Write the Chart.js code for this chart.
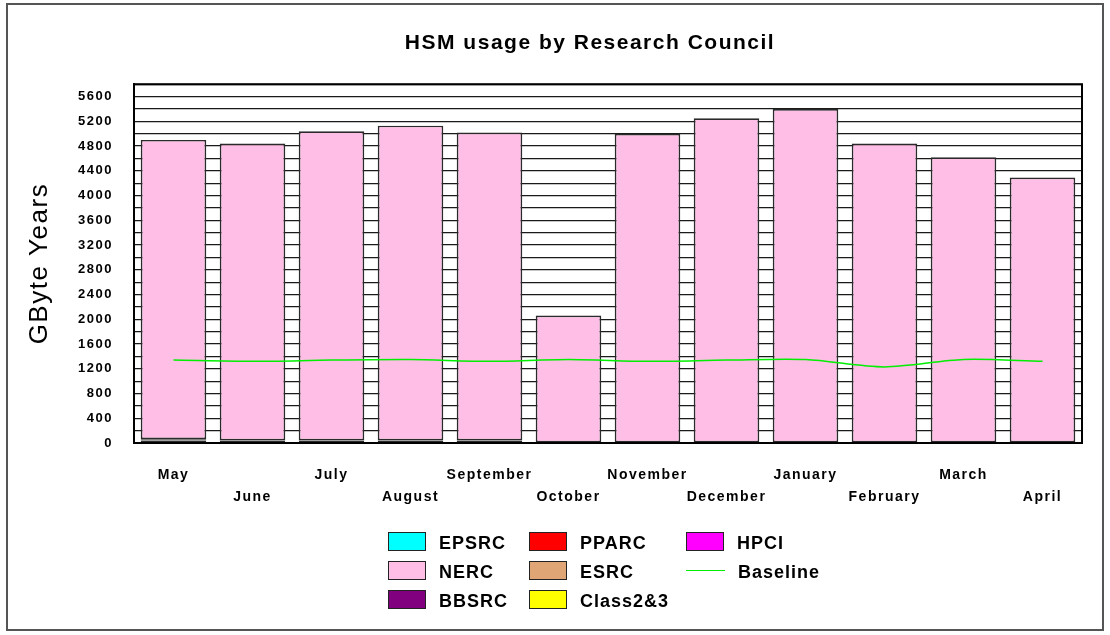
<!DOCTYPE html>
<html>
<head>
<meta charset="utf-8">
<title>HSM usage by Research Council</title>
<script src="https://cdn.jsdelivr.net/npm/chart.js@4.4.1/dist/chart.umd.min.js"></script>
<style>
  html, body { margin: 0; padding: 0; background: #fff; }
  #wrap { position: relative; width: 1110px; height: 635px; }
  #frame {
    position: absolute; left: 6px; top: 3px; width: 1094px; height: 624px;
    border: 2px solid #555;
  }
  canvas { position: absolute; left: 0; top: 0; }
  #legend {
    position: absolute; left: 388px; top: 532px;
    display: grid; grid-template-columns: 141px 157px 160px; grid-auto-rows: 29px;
    font: bold 18px "Liberation Sans", Arial, sans-serif; letter-spacing: 1px; color: #000;
  }
  #legend .item { display: flex; align-items: flex-start; }
  #legend .box { width: 36px; height: 17px; border: 1.5px solid #222; margin-right: 13px; flex: none; }
  #legend .line { width: 39px; height: 0; border-top: 1.5px solid #00ee00; margin: 9px 13px 0 0; flex: none; }
  #legend span { line-height: 22px; }
</style>
</head>
<body>
<div id="wrap">
  <div id="frame"></div>
  <canvas id="hsmChart" width="1110" height="635"></canvas>
  <div id="legend"></div>
</div>
<script>
// months of the accounting year
const months = ['May', 'June', 'July', 'August', 'September', 'October',
                'November', 'December', 'January', 'February', 'March', 'April'];

// GByte years held per research council
const epsrc    = [40, 0, 0, 0, 0, 0, 0, 0, 0, 0, 0, 0];
const bbsrc    = [20, 40, 40, 40, 40, 10, 10, 10, 10, 10, 10, 10];
const pparc    = [0, 0, 0, 0, 0, 0, 0, 0, 0, 0, 0, 0];
const esrc     = [0, 0, 0, 0, 0, 0, 0, 0, 0, 0, 0, 0];
const hpci     = [0, 0, 0, 0, 0, 0, 0, 0, 0, 0, 0, 0];
const class23  = [0, 0, 0, 0, 0, 0, 0, 0, 0, 0, 0, 0];
const nerc     = [4840, 4800, 5000, 5090, 4980, 2050, 4990, 5240, 5390, 4830, 4610, 4280];
const baseline = [1340, 1320, 1340, 1350, 1320, 1350, 1320, 1340, 1350, 1230, 1350, 1320];

// y axis: grid every 200, label every 400
const yMax = 5800;
const yStep = 200;
const yLabelEvery = 400;

const colors = {
    EPSRC: '#00ffff', PPARC: '#ff0000', HPCI: '#ff00ff',
    NERC: '#ffbee6', ESRC: '#dfa574', BBSRC: '#800080',
    'Class2&3': '#ffff00', Baseline: '#00ee00'
};

// legend reads row by row, three columns
const legendOrder = ['EPSRC', 'PPARC', 'HPCI', 'NERC', 'ESRC', 'Baseline', 'BBSRC', 'Class2&3'];

const FONT = '"Liberation Sans", Arial, sans-serif';

function barSet(label, data) {
    return {
        type: 'bar',
        label: label,
        data: data,
        stack: 'hsm',
        backgroundColor: colors[label],
        borderColor: '#2a2a2a',
        borderWidth: 1.7,
        borderSkipped: false,
        categoryPercentage: 0.83,
        barPercentage: 1,
        order: 1
    };
}

// outline the plot area, space the text out a little,
// and centre the title a bit left of the plot
const plotFrame = {
    id: 'plotFrame',
    beforeUpdate(chart) { chart.ctx.letterSpacing = '1.5px'; },
    afterLayout(chart) {
        if (chart.titleBlock) chart.titleBlock.left = 98;
    },
    beforeDraw(chart) { chart.ctx.letterSpacing = '1.5px'; },
    afterDraw(chart) {
        const { ctx, chartArea: a } = chart;
        ctx.save();
        ctx.strokeStyle = '#000';
        ctx.lineWidth = 2;
        ctx.strokeRect(a.left, a.top, a.right - a.left, a.bottom - a.top);
        ctx.restore();
    }
};

const ctx = document.getElementById('hsmChart').getContext('2d');
const hsmChart = new Chart(ctx, {
    data: {
        labels: months,
        datasets: [
            barSet('EPSRC', epsrc),
            barSet('BBSRC', bbsrc),
            barSet('PPARC', pparc),
            barSet('ESRC', esrc),
            barSet('HPCI', hpci),
            barSet('Class2&3', class23),
            barSet('NERC', nerc),
            {
                type: 'line',
                label: 'Baseline',
                data: baseline,
                stack: 'base',
                borderColor: colors.Baseline,
                borderWidth: 1.5,
                pointRadius: 0,
                tension: 0.3,
                fill: false,
                order: 0
            }
        ]
    },
    options: {
        responsive: false,
        animation: false,
        devicePixelRatio: 1,
        layout: { padding: { left: 0, right: 28, top: 0, bottom: 117 } },
        plugins: {
            legend: { display: false },
            tooltip: { enabled: false },
            title: {
                display: true,
                text: 'HSM usage by Research Council',
                color: '#000',
                font: { family: FONT, size: 21, weight: 'bold', lineHeight: 1.2 },
                padding: { top: 31, bottom: 28 }
            }
        },
        scales: {
            x: {
                stacked: true,
                grid: { display: false, drawTicks: false },
                border: { display: true, color: '#000', width: 2 },
                ticks: {
                    autoSkip: false,
                    maxRotation: 0,
                    minRotation: 0,
                    padding: 21,
                    color: '#000',
                    font: { family: FONT, size: 14, weight: 'bold', lineHeight: 1.57 },
                    // every second month drops to a second row
                    callback: function(value, index) {
                        const name = months[index];
                        return index % 2 === 0 ? name : ['', name];
                    }
                },
                afterFit(scale) { scale.height = 75; }
            },
            y: {
                stacked: true,
                min: 0,
                max: yMax,
                border: { display: true, color: '#000', width: 2 },
                grid: { color: '#1a1a1a', lineWidth: 1.2, drawTicks: false },
                ticks: {
                    stepSize: yStep,
                    maxTicksLimit: 40,
                    autoSkip: false,
                    padding: 21,
                    color: '#000',
                    font: { family: FONT, size: 13, weight: 'bold', lineHeight: 0.8 },
                    callback: v => (v % yLabelEvery === 0 ? v : '')
                },
                title: {
                    display: true,
                    text: 'GByte Years',
                    color: '#000',
                    font: { family: FONT, size: 26, weight: 'normal', lineHeight: 1.2 },
                    padding: { top: 24, bottom: 0 }
                },
                afterFit(scale) { scale.width = 134; }
            }
        }
    },
    plugins: [plotFrame]
});

// legend grid built from the chart's own datasets
const legendEl = document.getElementById('legend');
legendOrder.forEach(name => {
    const ds = hsmChart.data.datasets.find(d => d.label === name);
    const item = document.createElement('div');
    item.className = 'item';
    const mark = document.createElement('div');
    if (ds.type === 'line') {
        mark.className = 'line';
        mark.style.borderTopColor = ds.borderColor;
    } else {
        mark.className = 'box';
        mark.style.background = ds.backgroundColor;
    }
    const text = document.createElement('span');
    text.textContent = name;
    item.appendChild(mark);
    item.appendChild(text);
    legendEl.appendChild(item);
});
</script>
</body>
</html>
